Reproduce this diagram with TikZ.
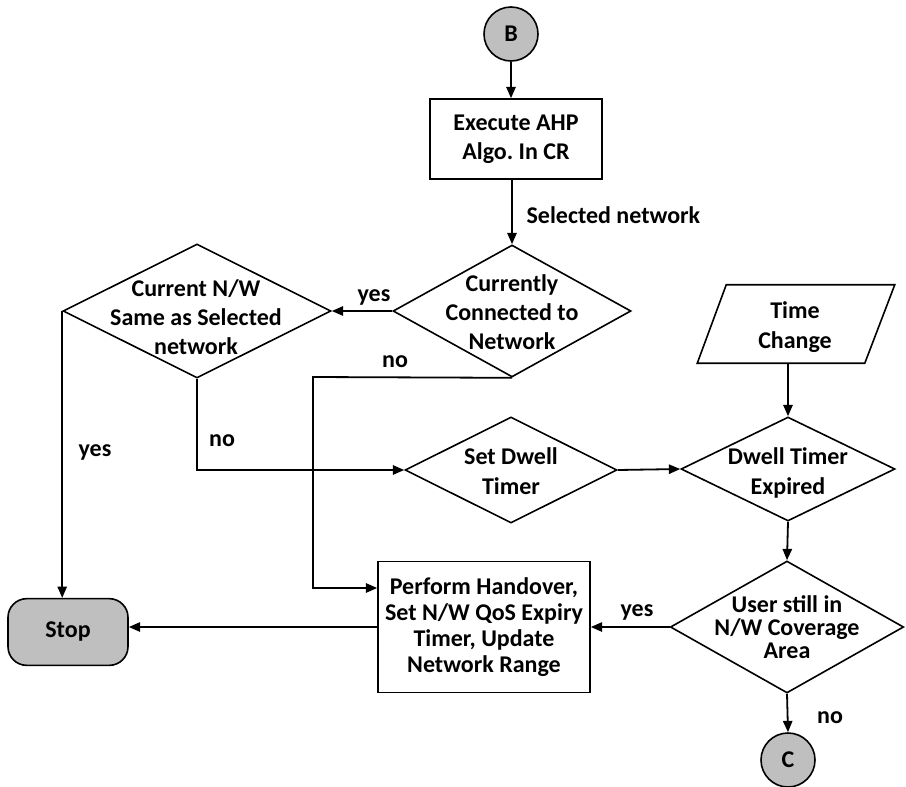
\documentclass[tikz,border=0pt]{standalone}
\usepackage{fontspec}
\setmainfont{Carlito}
\usetikzlibrary{shapes.geometric,arrows.meta,calc}

\definecolor{termgray}{HTML}{BFBFBF}
\frenchspacing

\begin{document}
\begin{tikzpicture}[x=0.75pt,y=-0.75pt,
  every node/.style={font=\bfseries\fontsize{18}{22}\selectfont, align=center},
  boxtext/.style={font=\bfseries\fontsize{18}{19.5}\selectfont},
  dense/.style={font=\bfseries\fontsize{18}{17.5}\selectfont},
  line/.style={line width=1.35pt},
  arr/.style={line, -{Triangle[length=8.5pt,width=7pt]}},
  dia/.style={draw, line width=1.2pt, diamond, inner sep=0pt},
  proc/.style={draw, line width=1.2pt, rectangle, inner sep=0pt},
  conn/.style={draw, line width=1.2pt, circle, fill=termgray, inner sep=0pt, minimum size=40.5pt},
  term/.style={draw, line width=1.2pt, rectangle, rounded corners=14pt, fill=termgray,
               inner sep=0pt, minimum width=90pt, minimum height=50pt},
  lbl/.style={inner sep=1pt}
]
\useasboundingbox (0,0) rectangle (906,786);

% connectors (off-page references)
\node[conn] (b) at (511,34) {B};
\node[conn] (c) at (788,760) {C};

% process boxes
\node[proc, minimum width=129pt, minimum height=60pt] (ahp) at (516,139) {Execute AHP\\Algo. In CR};
\node[proc, boxtext, minimum width=159pt, minimum height=98pt] (ph) at (484,627) {Perform Handover,\\Set N/W QoS Expiry\\Timer, Update\\Network Range};

% terminator
\node[term] (stop) at (68,632) {Stop};

% decisions
\node[dia, minimum width=178.5pt, minimum height=99pt] (cc) at (512,311) {};
\node at (512,312) {Currently\\Connected to\\Network};

\node[dia, minimum width=201pt, minimum height=100.5pt] (cnw) at (197,311) {};
\node at (196,317) {Current N/W\\Same as Selected\\network};

\node[dia, minimum width=159pt, minimum height=79.5pt] (sdt) at (511,470) {};
\node at (511,471) {Set Dwell\\Timer};

\node[dia, minimum width=160.5pt, minimum height=78pt] (dte) at (788,469) {};
\node at (788,473) {Dwell Timer\\Expired};

\node[dia, minimum width=175pt, minimum height=99pt] (usr) at (787,627) {};
\node[dense] at (787,627) {User still in\\N/W Coverage\\Area};

% input (parallelogram)
\node[minimum width=147.75pt, minimum height=58.5pt, inner sep=0pt] (tc) at (796,324) {};
\draw[line, line width=1.2pt] ($(tc.north west)+(29,0)$) -- (tc.north east)
  -- ($(tc.south east)+(-30,0)$) -- (tc.south west) -- cycle;
\node at (795,327) {Time\\Change};

% bend points
\coordinate (k1) at (313,377);

% flow
\draw[arr] (b.south) -- (b.south |- ahp.north);
\draw[arr] (ahp.south -| cc.north) -- (cc.north);
\node[lbl, anchor=west] at (525,215) {Selected network};

\draw[arr] (cc.west) -- (cnw.east);
\node[lbl] at (374,297) {yes};

\draw[arr] (cc.south) -- (k1) |- ($(ph.west)+(0,-39)$);
\node[lbl] at (395,362) {no};

\draw[arr] (cnw.south) |- (sdt.west);
\node[lbl] at (222,441) {no};

\draw[arr] (cnw.west) -- (cnw.west |- stop.north);
\node[lbl] at (95,452) {yes};

\draw[arr] (sdt.east) -- (dte.west);
\draw[arr] (tc.south -| dte.north) -- (dte.north);
\draw[arr] (dte.south) -- (usr.north);

\draw[arr] (usr.west) -- (usr.west -| ph.east);
\node[lbl] at (637,612) {yes};

\draw[arr] (ph.west) -- (ph.west -| stop.east);

\draw[arr] (usr.south) -- (c.north);
\node[lbl] at (830,718) {no};
\end{tikzpicture}
\end{document}
